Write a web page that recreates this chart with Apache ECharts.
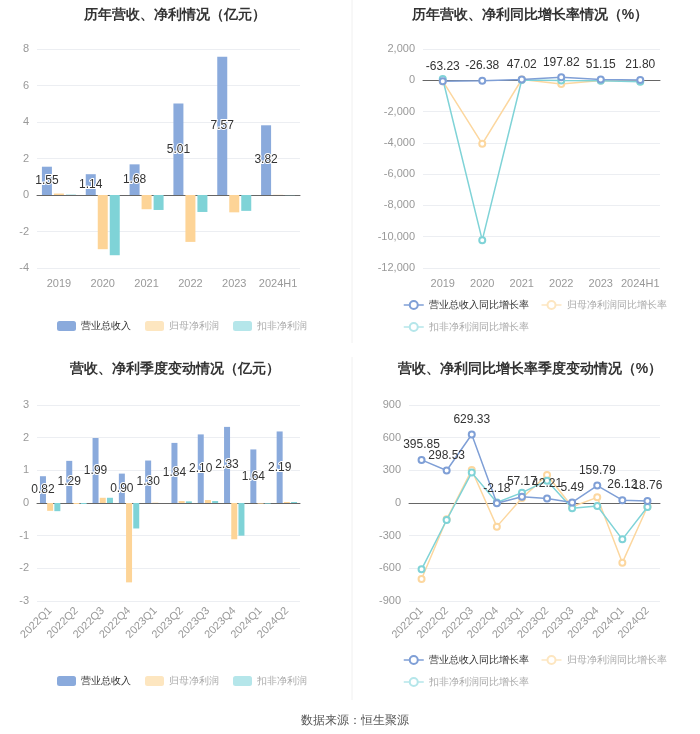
<!DOCTYPE html>
<html>
<head>
<meta charset="utf-8">
<script src="https://cdn.jsdelivr.net/npm/echarts@6/dist/echarts.min.js"></script>
<style>
  html, body { margin: 0; padding: 0; background: #fff; }
  #main { width: 700px; height: 734px; }
</style>
</head>
<body>
<div id="main"></div>
<script>
// 年度数据
var years = ['2019', '2020', '2021', '2022', '2023', '2024H1']
var yearRevenue = [1.55, 1.14, 1.68, 5.01, 7.57, 3.82]
var yearNetProfit = [0.08, -2.97, -0.78, -2.57, -0.95, 0.01]
var yearDeducted = [0.02, -3.30, -0.82, -0.93, -0.87, -0.01]
var yearRevenueYoy = [-63.23, -26.38, 47.02, 197.82, 51.15, 21.80]
var yearNetProfitYoy = [-60, -4060, 50, -234, -20, -60]
var yearDeductedYoy = [80, -10220, 20, -20, -30, -100]

// 季度数据
var quarters = ['2022Q1', '2022Q2', '2022Q3', '2022Q4', '2023Q1', '2023Q2', '2023Q3', '2023Q4', '2024Q1', '2024Q2']
var qRevenue = [0.82, 1.29, 1.99, 0.90, 1.30, 1.84, 2.10, 2.33, 1.64, 2.19]
var qNetProfit = [-0.24, -0.03, 0.16, -2.43, 0.01, 0.06, 0.09, -1.11, -0.02, 0.03]
var qDeducted = [-0.25, -0.03, 0.16, -0.78, 0.00, 0.05, 0.06, -1.00, -0.02, 0.03]
var qRevenueYoy = [395.85, 298.53, 629.33, -2.18, 57.17, 42.21, 5.49, 159.79, 26.12, 18.76]
var qNetProfitYoy = [-698, -150, 303, -217, 45, 257, -34, 52, -548, -34]
var qDeductedYoy = [-609, -156, 279, 5, 95, 205, -49, -28, -334, -37]

var BLUE = '#8aaadc'
var ORANGE = '#fdd497'
var CYAN = '#7fd3d7'
var LINE_BLUE = '#7f9fd6'

var chart = echarts.init(document.getElementById('main'))

function fmtThousand(v) {
  return String(v).replace(/\B(?=(\d{3})+(?!\d))/g, ',')
}

function yAxis(gridIndex, min, max, interval, formatter) {
  return {
    gridIndex: gridIndex,
    type: 'value',
    min: min,
    max: max,
    interval: interval,
    axisLine: { show: false },
    axisTick: { show: false },
    axisLabel: { color: '#999', fontSize: 11, formatter: formatter },
    splitLine: { lineStyle: { color: '#eceef2' } }
  }
}

function xAxis(gridIndex, data, rotate) {
  return {
    gridIndex: gridIndex,
    type: 'category',
    data: data,
    axisLine: { onZero: true, lineStyle: { color: '#666' } },
    axisTick: { alignWithLabel: true, lineStyle: { color: '#666' } },
    axisLabel: { color: '#999', fontSize: 11, rotate: rotate || 0, interval: 0, margin: rotate ? 8 : 10 },
    splitLine: { show: false }
  }
}

var valueLabel = {
  show: true,
  color: '#333',
  fontSize: 12,
  textBorderColor: '#fff',
  textBorderWidth: 2,
  formatter: function (p) { return p.value.toFixed(2) }
}

function barLegend(top) {
  return {
    top: top,
    left: 52,
    itemWidth: 19,
    itemHeight: 10,
    itemGap: 14,
    icon: 'roundRect',
    textStyle: { fontSize: 10 },
    data: [
      { name: '营业总收入', textStyle: { color: '#333' }, itemStyle: { color: BLUE } },
      { name: '归母净利润', textStyle: { color: '#aaa' }, itemStyle: { color: '#fde6c0' } },
      { name: '扣非净利润', textStyle: { color: '#aaa' }, itemStyle: { color: '#b5e6ea' } }
    ]
  }
}

function lineLegendItem(name, color, textColor) {
  return {
    name: name,
    textStyle: { color: textColor },
    itemStyle: { color: color },
    lineStyle: { color: color, width: 1.5 }
  }
}

function lineLegend(top) {
  return {
    top: top,
    left: 398,
    width: 280,
    itemWidth: 20,
    itemHeight: 10,
    itemGap: 12,
    textStyle: { fontSize: 10 },
    data: [
      lineLegendItem('营业总收入同比增长率', LINE_BLUE, '#333'),
      lineLegendItem('归母净利润同比增长率', '#fde6c0', '#aaa'),
      lineLegendItem('扣非净利润同比增长率', '#b5e6ea', '#aaa')
    ]
  }
}

function barSeries(name, data, color, axis, width, showLabel) {
  return {
    name: name,
    type: 'bar',
    xAxisIndex: axis,
    yAxisIndex: axis,
    data: data,
    barWidth: width,
    barGap: '20%',
    itemStyle: { color: color },
    label: showLabel ? Object.assign({ position: 'inside' }, valueLabel) : { show: false }
  }
}

function lineSeries(name, data, color, axis, showLabel, z) {
  return {
    name: name,
    type: 'line',
    xAxisIndex: axis,
    yAxisIndex: axis,
    data: data,
    z: z,
    symbol: 'emptyCircle',
    symbolSize: 6,
    lineStyle: { color: color, width: 1.5 },
    itemStyle: { color: color },
    label: showLabel ? Object.assign({ position: 'top' }, valueLabel, { textBorderWidth: 0 }) : { show: false }
  }
}

var titleStyle = { fontSize: 14, fontWeight: 'bold', color: '#333' }

var option = {
  animation: false,
  title: [
    { text: '历年营收、净利情况（亿元）', left: 170, textAlign: 'center', top: 3, textStyle: titleStyle },
    { text: '历年营收、净利同比增长率情况（%）', left: 525, textAlign: 'center', top: 3, textStyle: titleStyle },
    { text: '营收、净利季度变动情况（亿元）', left: 170, textAlign: 'center', top: 357, textStyle: titleStyle },
    { text: '营收、净利同比增长率季度变动情况（%）', left: 525, textAlign: 'center', top: 357, textStyle: titleStyle },
    { text: '数据来源：恒生聚源', left: 350, textAlign: 'center', top: 710, textStyle: { fontSize: 12, fontWeight: 'normal', color: '#555' } }
  ],
  graphic: [
    { type: 'line', shape: { x1: 352, y1: 0, x2: 352, y2: 343 }, style: { stroke: '#f0f0f0', lineWidth: 1 } },
    { type: 'line', shape: { x1: 352, y1: 357, x2: 352, y2: 700 }, style: { stroke: '#f0f0f0', lineWidth: 1 } }
  ],
  legend: [
    barLegend(316),
    lineLegend(295),
    barLegend(671),
    lineLegend(650)
  ],
  grid: [
    { left: 37, width: 263, top: 49, height: 219 },
    { left: 423, width: 237, top: 49, height: 219 },
    { left: 37, width: 263, top: 405, height: 196 },
    { left: 409, width: 251, top: 405, height: 196 }
  ],
  xAxis: [
    xAxis(0, years),
    xAxis(1, years),
    xAxis(2, quarters, 45),
    xAxis(3, quarters, 45)
  ],
  yAxis: [
    yAxis(0, -4, 8, 2),
    yAxis(1, -12000, 2000, 2000, fmtThousand),
    yAxis(2, -3, 3, 1),
    yAxis(3, -900, 900, 300)
  ],
  series: [
    barSeries('营业总收入', yearRevenue, BLUE, 0, 10, true),
    barSeries('归母净利润', yearNetProfit, ORANGE, 0, 10, false),
    barSeries('扣非净利润', yearDeducted, CYAN, 0, 10, false),
    lineSeries('营业总收入同比增长率', yearRevenueYoy, LINE_BLUE, 1, true, 4),
    lineSeries('归母净利润同比增长率', yearNetProfitYoy, '#fcd79f', 1, false, 2),
    lineSeries('扣非净利润同比增长率', yearDeductedYoy, CYAN, 1, false, 3),
    barSeries('营业总收入', qRevenue, BLUE, 2, 6, true),
    barSeries('归母净利润', qNetProfit, ORANGE, 2, 6, false),
    barSeries('扣非净利润', qDeducted, CYAN, 2, 6, false),
    lineSeries('营业总收入同比增长率', qRevenueYoy, LINE_BLUE, 3, true, 4),
    lineSeries('归母净利润同比增长率', qNetProfitYoy, '#fcd79f', 3, false, 2),
    lineSeries('扣非净利润同比增长率', qDeductedYoy, CYAN, 3, false, 3)
  ]
}

chart.setOption(option)
</script>
</body>
</html>
